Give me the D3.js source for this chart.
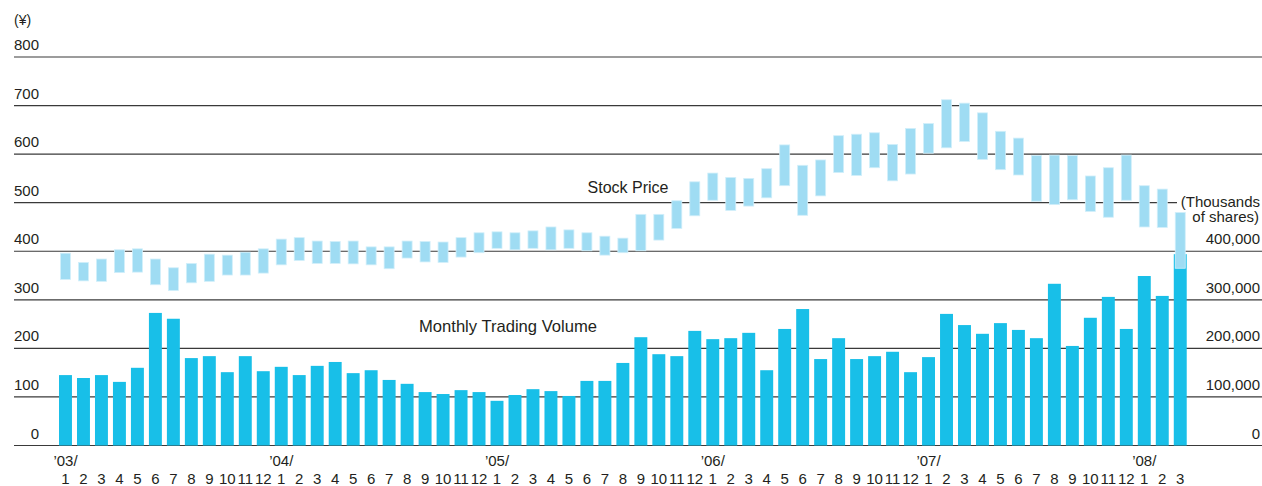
<!DOCTYPE html>
<html>
<head>
<meta charset="utf-8">
<script src="https://cdn.jsdelivr.net/npm/d3@7"></script>
<style>
  html, body { margin: 0; padding: 0; background: #fff; }
  svg text { font-family: "Liberation Sans", Arial, sans-serif; fill: #231f20; }
</style>
</head>
<body>
<div id="app"></div>
<script>
// months '03/1 .. '08/3
const years = ["’03/", "’04/", "’05/", "’06/", "’07/", "’08/"];
const monthsPerYear = [12, 12, 12, 12, 12, 3];

// monthly high / low stock price (yen)
const priceHigh = [
  396, 377, 384, 403, 405, 384, 366, 375, 394, 392, 398, 405,
  425, 428, 421, 420, 421, 409, 409, 421, 420, 419, 428, 438,
  440, 438, 442, 450, 444, 438, 431, 427, 476, 476, 504, 543,
  561, 552, 550, 570, 619, 577, 588, 638, 641, 644, 620, 653,
  663, 712, 705, 685, 647, 633, 597, 598, 597, 555, 572, 598,
  535, 528, 480
];
const priceLow = [
  342, 339, 338, 356, 357, 331, 319, 335, 338, 351, 351, 355,
  372, 381, 375, 375, 374, 372, 364, 386, 378, 377, 388, 397,
  406, 403, 406, 403, 406, 401, 392, 397, 401, 423, 447, 473,
  505, 484, 493, 510, 535, 474, 514, 562, 556, 572, 545, 559,
  602, 613, 626, 589, 568, 557, 503, 496, 506, 482, 470, 505,
  450, 449, 365
];

// monthly trading volume (thousands of shares)
const volume = [
  145000, 139000, 145000, 131000, 160000, 273000, 261000, 180000, 184000, 151000, 184000, 153000,
  162000, 145000, 164000, 172000, 149000, 155000, 135000, 127000, 110000, 106000, 114000, 110000,
  92000, 104000, 116000, 112000, 102000, 133000, 133000, 170000, 223000, 188000, 184000, 236000,
  219000, 221000, 232000, 155000, 240000, 281000, 178000, 221000, 178000, 184000, 193000, 151000,
  182000, 271000, 248000, 230000, 252000, 238000, 221000, 333000, 205000, 263000, 306000, 240000,
  349000, 308000, 394000
];

const priceTicks = [0, 100, 200, 300, 400, 500, 600, 700, 800];
const volumeTicks = [0, 100000, 200000, 300000, 400000];

const W = 1262, H = 486;
const months = [];
years.forEach((y, yi) => {
  for (let m = 1; m <= monthsPerYear[yi]; m++) months.push({ year: y, month: m, idx: months.length });
});

const svg = d3.select("#app").append("svg")
  .attr("width", W)
  .attr("height", H);

const x = d3.scaleBand()
  .domain(months.map(d => d.idx))
  .range([56.5, 56.5 + 63 * 17.98])
  .paddingInner(0.28)
  .paddingOuter(0.14);

const yPrice = d3.scaleLinear().domain([0, 800]).range([445.5, 57]);
const yVol = d3.scaleLinear().domain([0, 800000]).range([445.5, 57]);

// gridlines
const grid = svg.append("g");
grid.selectAll("line")
  .data(priceTicks)
  .join("line")
  .attr("x1", 14)
  .attr("x2", d => d === 500 ? 1177 : W)
  .attr("y1", d => yPrice(d))
  .attr("y2", d => yPrice(d))
  .attr("stroke", "#3a3a3a")
  .attr("stroke-width", 1.2);

// left axis labels
svg.append("g").selectAll("text")
  .data(priceTicks)
  .join("text")
  .attr("x", 39)
  .attr("y", d => yPrice(d) - 7)
  .attr("text-anchor", "end")
  .attr("font-size", 15)
  .text(d => d);

svg.append("text")
  .attr("x", 14).attr("y", 25)
  .attr("font-size", 14)
  .text("(¥)");

// right axis labels
svg.append("g").selectAll("text")
  .data(volumeTicks)
  .join("text")
  .attr("x", 1260)
  .attr("y", d => yVol(d) - 7)
  .attr("text-anchor", "end")
  .attr("font-size", 15)
  .text(d => d3.format(",")(d));

svg.append("text")
  .attr("x", 1260).attr("y", 207)
  .attr("text-anchor", "end")
  .attr("font-size", 15)
  .text("(Thousands");
svg.append("text")
  .attr("x", 1259).attr("y", 222)
  .attr("text-anchor", "end")
  .attr("font-size", 15)
  .text("of shares)");

// volume bars
svg.append("g").selectAll("rect")
  .data(months)
  .join("rect")
  .attr("x", d => x(d.idx))
  .attr("width", x.bandwidth())
  .attr("y", d => yVol(volume[d.idx]))
  .attr("height", d => yVol(0) - yVol(volume[d.idx]))
  .attr("fill", "#18bfe8");

// price range bars
const pw = 10;
svg.append("g").selectAll("rect")
  .data(months)
  .join("rect")
  .attr("x", d => x(d.idx) + x.bandwidth() / 2 - pw / 2)
  .attr("width", pw)
  .attr("y", d => yPrice(priceHigh[d.idx]))
  .attr("height", d => yPrice(priceLow[d.idx]) - yPrice(priceHigh[d.idx]))
  .attr("fill", "#9fdcf3")
  .attr("stroke", "#d2effa")
  .attr("stroke-width", 0.8);

// series labels
svg.append("text")
  .attr("x", 628).attr("y", 193)
  .attr("text-anchor", "middle")
  .attr("font-size", 16)
  .text("Stock Price");
svg.append("text")
  .attr("x", 419).attr("y", 332)
  .attr("font-size", 16.6)
  .text("Monthly Trading Volume");

// x labels
const cx = d => x(d.idx) + x.bandwidth() / 2;
svg.append("g").selectAll("text")
  .data(months)
  .join("text")
  .attr("x", cx)
  .attr("y", 484)
  .attr("text-anchor", "middle")
  .attr("font-size", 15)
  .text(d => d.month);

svg.append("g").selectAll("text")
  .data(months.filter(d => d.month === 1))
  .join("text")
  .attr("x", cx)
  .attr("y", 466)
  .attr("text-anchor", "middle")
  .attr("font-size", 15)
  .text(d => d.year);
</script>
</body>
</html>
